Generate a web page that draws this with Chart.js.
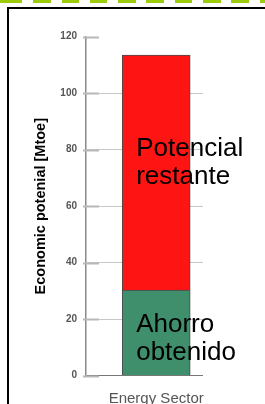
<!DOCTYPE html>
<html>
<head>
<meta charset="utf-8">
<script src="https://cdn.jsdelivr.net/npm/chart.js@4.4.0/dist/chart.umd.min.js"></script>
<style>
  html, body { margin: 0; padding: 0; background: #fff; overflow: hidden; }
  body { width: 265px; height: 404px; position: relative; }
  .dashes {
    position: absolute; left: 0; top: 0; width: 265px; height: 3px;
    background: repeating-linear-gradient(to right, #9ccc0c 0 17.5px, transparent 17.5px 28.3px);
    background-position: 5px 0;
  }
  .frame {
    position: absolute; left: 7px; top: 7px; width: 280px; height: 420px;
    border-left: 2px solid #000; border-top: 2px solid #000;
  }
  #wrap { position: absolute; left: 0; top: 0; width: 265px; height: 404px; }
</style>
</head>
<body>
<div class="dashes"></div>
<div class="frame"></div>
<div id="wrap"><canvas id="chart"></canvas></div>
<script>
const categories = ["Energy Sector"];
const ahorroValues = [30.3];
const restanteValues = [83.2];
const ahorroText = ["Ahorro", "obtenido"];
const restanteText = ["Potencial", "restante"];

const FONT = '"Liberation Sans", Arial, sans-serif';

// text boxes drawn over the bars
const barText = {
    id: "barText",
    afterDatasetsDraw(chart) {
        const ctx = chart.ctx;
        chart.data.datasets.forEach((ds, i) => {
            chart.getDatasetMeta(i).data.forEach(bar => {
                ctx.save();
                ctx.font = "26px " + FONT;
                ctx.fillStyle = "#000";
                ctx.textBaseline = "alphabetic";
                ds.textLines.forEach((line, k) => {
                    ctx.fillText(line, bar.x - bar.width / 2 + 14, bar.y + ds.textTop + k * 27.5);
                });
                ctx.restore();
            });
        });
    }
};

// tick marks crossing the y axis
const tickMarks = {
    id: "tickMarks",
    afterDatasetsDraw(chart) {
        const ctx = chart.ctx;
        const s = chart.scales.y;
        ctx.save();
        ctx.strokeStyle = "#b8b8b8";
        ctx.lineWidth = 2;
        s.ticks.forEach(t => {
            const y = Math.round(s.getPixelForValue(t.value)) + 0.5;
            ctx.beginPath();
            ctx.moveTo(s.right - 3, y);
            ctx.lineTo(s.right + 13, y);
            ctx.stroke();
        });
        ctx.restore();
    }
};

new Chart(document.getElementById("chart"), {
    type: "bar",
    data: {
        datasets: [{
            label: "Ahorro obtenido",
            data: categories.map((c, i) => ({ x: i, y: ahorroValues[i] })),
            backgroundColor: "#3f8f6d",
            borderColor: "#4a4a4a",
            borderWidth: 1,
            barThickness: 68,
            textLines: ahorroText,
            textTop: 42
        }, {
            label: "Potencial restante",
            data: categories.map((c, i) => ({ x: i, y: restanteValues[i] })),
            backgroundColor: "#ff1414",
            borderColor: "#4a4a4a",
            borderWidth: 1,
            barThickness: 68,
            textLines: restanteText,
            textTop: 101
        }]
    },
    options: {
        responsive: true,
        maintainAspectRatio: false,
        animation: false,
        layout: { padding: { left: 0, right: 62, top: 36.7, bottom: 0 } },
        plugins: { legend: { display: false }, tooltip: { enabled: false } },
        scales: {
            x: {
                type: "linear",
                stacked: true,
                offset: false,
                min: -0.6,
                max: 0.4,
                afterBuildTicks: axis => { axis.ticks = categories.map((c, i) => ({ value: i })); },
                afterFit: axis => { axis.height = 28.3; },
                grid: { display: false, drawTicks: false, offset: false },
                border: { display: false },
                ticks: {
                    callback: (v, i) => categories[i],
                    maxRotation: 0,
                    padding: 14,
                    color: "#555",
                    font: { family: FONT, size: 15 }
                }
            },
            y: {
                stacked: true,
                min: 0,
                max: 120,
                afterFit: axis => { axis.width = 86; },
                ticks: {
                    stepSize: 20,
                    padding: 9,
                    color: "#555",
                    font: { family: FONT, size: 10, weight: "bold" }
                },
                grid: {
                    drawTicks: false,
                    color: c => c.tick.value === 120 ? "rgba(0,0,0,0)" : (c.tick.value === 0 ? "#777" : "#c8c8c8"),
                    lineWidth: 1
                },
                border: { color: "#8a8a8a", width: 1.5 },
                title: {
                    display: true,
                    text: "Economic potenial [Mtoe]",
                    color: "#000",
                    padding: { top: 32.3, bottom: 0 },
                    font: { family: FONT, size: 14.5, weight: "bold" }
                }
            }
        }
    },
    plugins: [barText, tickMarks]
});
</script>
</body>
</html>
